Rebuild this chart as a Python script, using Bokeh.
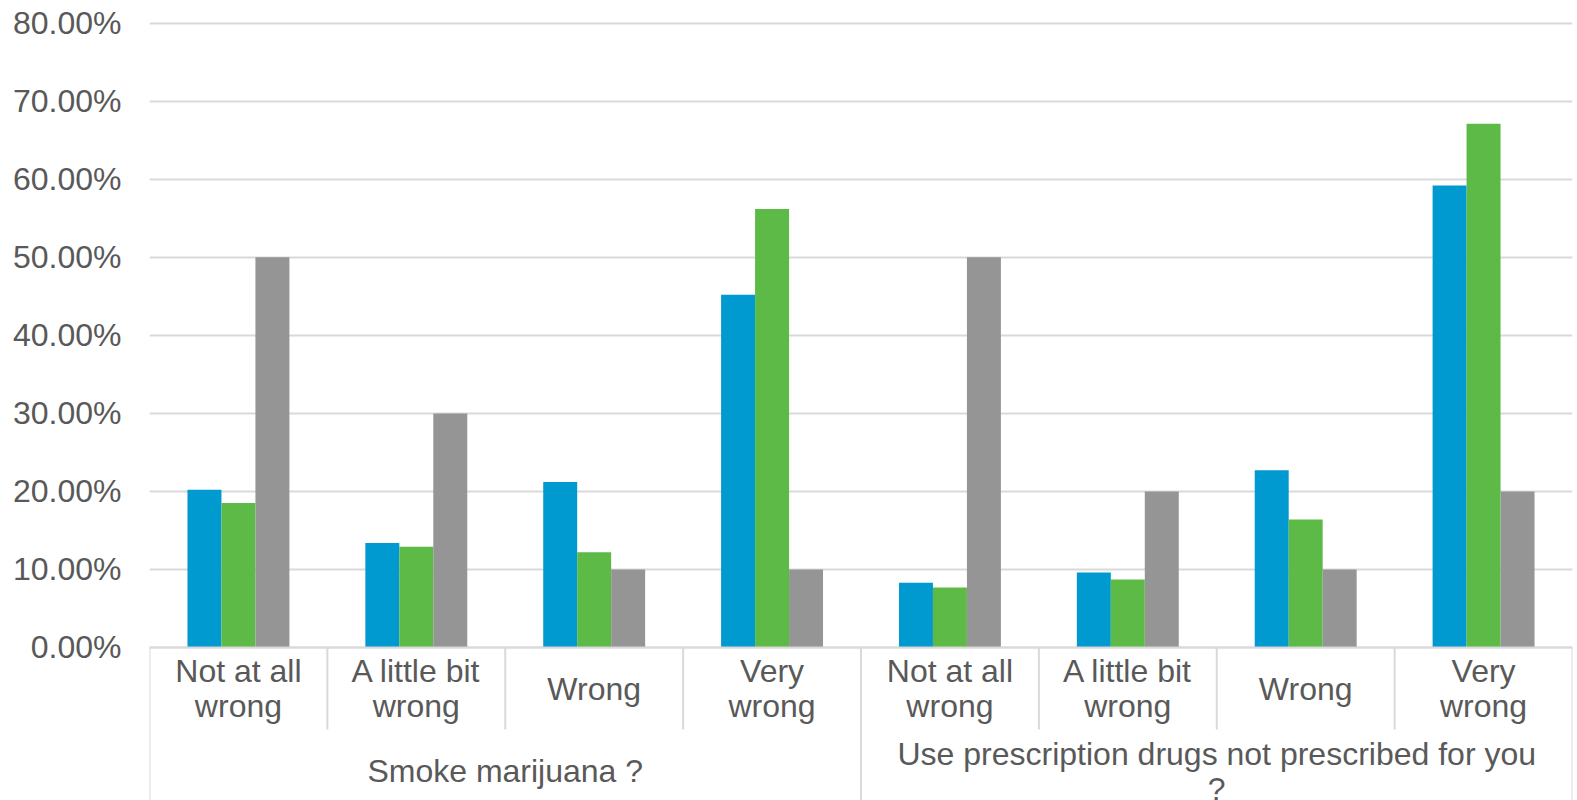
from bokeh.plotting import figure
from bokeh.models import Range1d, FixedTicker
from bokeh.core.properties import value
from bokeh.embed import file_html
from bokeh.resources import INLINE

# ---- data ----
groups = ["Smoke marijuana ?", "Use prescription drugs not prescribed for you\n?"]
answers = ["Not at all\nwrong", "A little bit\nwrong", "Wrong", "Very\nwrong"]
series_blue = [0.202, 0.134, 0.212, 0.452, 0.083, 0.096, 0.227, 0.592]
series_green = [0.185, 0.129, 0.122, 0.562, 0.077, 0.087, 0.164, 0.671]
series_gray = [0.50, 0.30, 0.10, 0.10, 0.50, 0.20, 0.10, 0.20]
y_ticks = [0.0, 0.1, 0.2, 0.3, 0.4, 0.5, 0.6, 0.7, 0.8]
y_tick_labels = ["0.00%", "10.00%", "20.00%", "30.00%", "40.00%",
                 "50.00%", "60.00%", "70.00%", "80.00%"]

colors = ["#0099D0", "#5DBA47", "#959595"]
FONT = "Liberation Sans"
FSIZE = "32px"
TXT = "#595959"
GRID = "#D9D9D9"

n_cat = len(groups) * len(answers)
cat_labels = [a for g in groups for a in answers]

Y_TOP = 0.8291
Y_BOT = -0.1961
W, H = 1577, 800
p = figure(width=W, height=H, output_backend="svg", toolbar_location=None,
           x_range=Range1d(0, n_cat), y_range=Range1d(Y_BOT, Y_TOP),
           min_border_left=149, min_border_right=5, min_border_top=0,
           min_border_bottom=0)
p.outline_line_color = None
p.xaxis.visible = False
p.xgrid.visible = False
p.background_fill_color = "white"
p.border_fill_color = "white"

p.ygrid.ticker = FixedTicker(ticks=y_ticks)
p.ygrid.grid_line_color = GRID
p.ygrid.grid_line_width = 2

ya = p.yaxis[0]
ya.ticker = FixedTicker(ticks=y_ticks)
ya.major_label_overrides = {t: l for t, l in zip(y_ticks, y_tick_labels)}
ya.axis_line_color = None
ya.major_tick_line_color = None
ya.minor_tick_line_color = None
ya.major_tick_out = 0
ya.major_tick_in = 0
ya.major_label_standoff = 28
ya.major_label_text_font = FONT
ya.major_label_text_font_size = FSIZE
ya.major_label_text_color = TXT

# bars
bw = 0.191
centers = [i + 0.5 for i in range(n_cat)]
for k, (vals, c) in enumerate(zip([series_blue, series_green, series_gray], colors)):
    xs = [x + (k - 1) * bw for x in centers]
    p.vbar(x=xs, top=vals, bottom=0, width=bw, fill_color=c, line_color=None)

# category axis lines
y_short = -0.1051
p.segment(x0=[0], y0=[0], x1=[n_cat], y1=[0], line_color=GRID, line_width=2)
short_x = [i for i in range(1, n_cat) if i % len(answers) != 0]
long_x = [i for i in range(0, n_cat + 1) if i % len(answers) == 0]
p.segment(x0=short_x, y0=[0] * len(short_x), x1=short_x, y1=[y_short] * len(short_x),
          line_color=GRID, line_width=2)
p.segment(x0=long_x, y0=[0] * len(long_x), x1=long_x, y1=[Y_BOT] * len(long_x),
          line_color=GRID, line_width=2)

# category labels
p.text(x=centers, y=[-0.0526] * n_cat, text=cat_labels,
       text_font=value(FONT), text_font_size=FSIZE, text_color=TXT,
       text_align="center", text_baseline="middle", text_line_height=0.99)

# group labels
gx = [len(answers) * (j + 0.5) for j in range(len(groups))]
p.text(x=gx, y=[-0.1589] * len(groups), text=groups,
       text_font=value(FONT), text_font_size=FSIZE, text_color=TXT,
       text_align="center", text_baseline="middle", text_line_height=0.99)

open("out.html", "w").write(file_html(p, INLINE))
